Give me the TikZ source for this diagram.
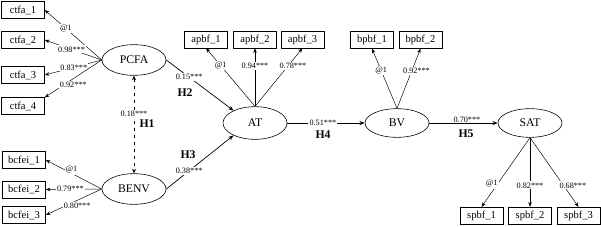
\documentclass[tikz,border=0pt]{standalone}
\usepackage{fontspec}
\setmainfont{Liberation Serif}
\usetikzlibrary{arrows.meta,shapes.geometric}

\begin{document}
\begin{tikzpicture}[x=0.03cm, y=-0.03cm,
  box/.style={draw, line width=0.5pt, minimum width=1.29cm, minimum height=0.5cm, inner sep=0pt, font=\fontsize{9}{10}\selectfont},
  latent/.style={ellipse, draw, line width=0.5pt, minimum width=1.92cm, minimum height=0.92cm, inner sep=0pt, font=\fontsize{10}{12}\selectfont},
  coef/.style={fill=white, inner sep=1pt, font=\fontsize{7}{8}\selectfont},
  hyp/.style={inner sep=1pt, font=\bfseries\fontsize{10}{12}\selectfont},
  load/.style={line width=0.4pt, -{Stealth[length=4pt, width=3pt]}},
  effect/.style={line width=0.6pt, -{Stealth[length=4.5pt, width=3.5pt]}}]
  \useasboundingbox (0,0) rectangle (601,226);
  % latent constructs
  \node[latent] (PCFA) at (134,60) {PCFA};
  \node[latent] (BENV) at (134,189) {BENV};
  \node[latent, minimum height=0.98cm] (AT) at (255,123) {AT};
  \node[latent, minimum height=0.86cm] (BV) at (397,123) {BV};
  \node[latent, minimum height=0.86cm] (SAT) at (530,123) {SAT};

  % indicators
  \node[box] (ctfa1) at (23,10) {ctfa\_1};
  \node[box] (ctfa2) at (23,40) {ctfa\_2};
  \node[box] (ctfa3) at (23,75) {ctfa\_3};
  \node[box] (ctfa4) at (23,106) {ctfa\_4};
  \node[box] (bcfei1) at (24,160) {bcfei\_1};
  \node[box] (bcfei2) at (24,189.5) {bcfei\_2};
  \node[box] (bcfei3) at (24,215) {bcfei\_3};
  \node[box] (apbf1) at (206,39.5) {apbf\_1};
  \node[box] (apbf2) at (255,39.5) {apbf\_2};
  \node[box] (apbf3) at (302.5,39.5) {apbf\_3};
  \node[box] (bpbf1) at (372,40) {bpbf\_1};
  \node[box] (bpbf2) at (420.5,40) {bpbf\_2};
  \node[box] (spbf1) at (481.5,215.5) {spbf\_1};
  \node[box] (spbf2) at (530,215.5) {spbf\_2};
  \node[box] (spbf3) at (578.5,215.5) {spbf\_3};

  % loadings
  \draw[load] (PCFA.west) -- node[coef, pos=0.63] {@1} (ctfa1.east);
  \draw[load] (PCFA.west) -- node[coef, pos=0.53] {0.98***} (ctfa2.east);
  \draw[load] (PCFA.west) -- node[coef, pos=0.49] {0.83***} (ctfa3.east);
  \draw[load] (PCFA.west) -- node[coef, pos=0.5, yshift=-5pt] {0.92***} (ctfa4.north east);
  \draw[load] (BENV.west) -- node[coef, pos=0.54, yshift=3pt] {@1} (bcfei1.east);
  \draw[load] (BENV.west) -- node[coef, pos=0.56] {0.79***} (bcfei2.east);
  \draw[load] (BENV.west) -- node[coef, pos=0.44, yshift=-5pt] {0.80***} (bcfei3.east);
  \draw[load] (AT.north) -- node[coef, pos=0.7] {@1} (apbf1.south);
  \draw[load] (AT.north) -- node[coef, pos=0.7] {0.94***} (apbf2.south);
  \draw[load] (AT.north) -- node[coef, pos=0.7, xshift=4pt] {0.78***} (apbf3.south);
  \draw[load] (BV.north) -- node[coef, pos=0.63] {@1} (bpbf1.south);
  \draw[load] (BV.north) -- node[coef, pos=0.63, xshift=4pt] {0.92***} (bpbf2.south);
  \draw[load] (SAT.south) -- node[coef, pos=0.67, xshift=-5pt] {@1} (spbf1.north);
  \draw[load] (SAT.south) -- node[coef, pos=0.69] {0.82***} (spbf2.north);
  \draw[load] (SAT.south) -- node[coef, pos=0.69, xshift=8pt] {0.68***} (spbf3.north);

  % correlation and structural paths
  \draw[line width=0.6pt, dashed, {Stealth[length=4pt, width=3.5pt]}-{Stealth[length=4pt, width=3.5pt]}]
    (PCFA.south) -- node[coef, pos=0.39] {0.18***} (BENV.north);
  \draw[effect] (PCFA.east) -- node[coef, pos=0.34] {0.15***} (AT.150);
  \draw[effect] (BENV.east) -- node[coef, pos=0.34] {0.38***} (AT.210);
  \draw[effect] (AT.east) -- node[coef, pos=0.46] {0.51***} (BV.west);
  \draw[effect] (BV.east) -- node[coef, pos=0.55, yshift=3pt] {0.70***} (SAT.west);

  % hypotheses
  \node[hyp] (H1) at (147,124) {H1};
  \node[hyp] (H2) at (185,93) {H2};
  \node[hyp] (H3) at (188,155) {H3};
  \node[hyp] (H4) at (323,135) {H4};
  \node[hyp] (H5) at (466,134) {H5};
\end{tikzpicture}
\end{document}
